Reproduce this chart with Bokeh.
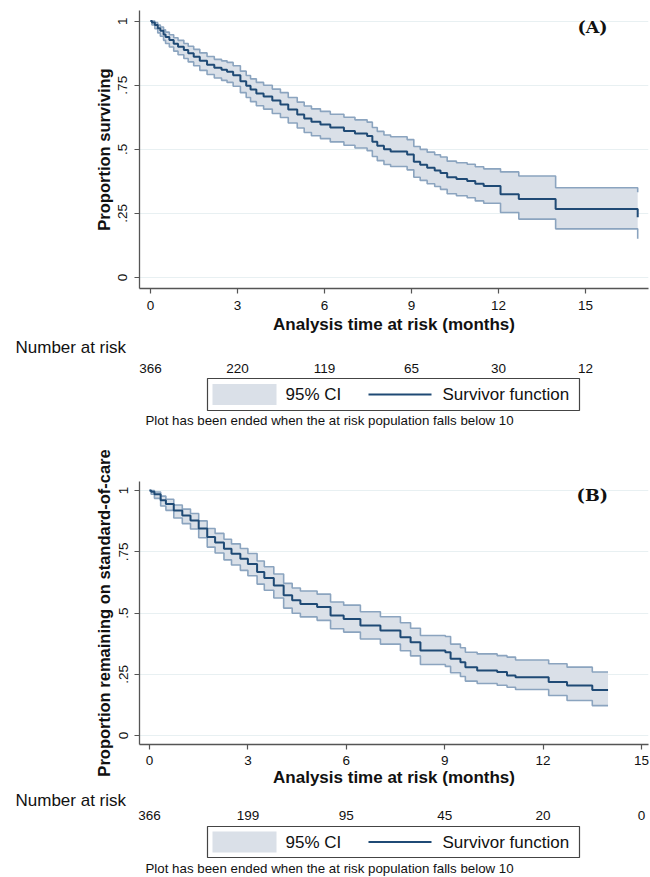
from bokeh.plotting import figure
from bokeh.models import Range1d, FixedTicker, ColumnDataSource
from bokeh.layouts import column
from bokeh.embed import file_html
from bokeh.resources import INLINE
from bokeh.core.properties import value

# ---------------- data ----------------
# Panel A: proportion surviving
a_time = [0.00, 0.05, 0.15, 0.25, 0.34, 0.45, 0.52, 0.65, 0.80, 0.95, 1.15, 1.30, 1.49, 1.70, 1.95,
          2.20, 2.45, 2.64, 2.85, 3.10, 3.30, 3.45, 3.65, 3.90, 4.20, 4.48, 4.75, 5.06, 5.30, 5.55,
          5.86, 6.20, 6.67, 7.05, 7.47, 7.65, 7.82, 8.05, 8.28, 8.85, 9.08, 9.30, 9.54, 9.80, 10.00,
          10.23, 10.55, 10.92, 11.20, 11.49, 12.07, 12.70, 13.97, 16.80]
a_surv = [1.000, 0.995, 0.985, 0.972, 0.962, 0.948, 0.938, 0.926, 0.912, 0.900, 0.887, 0.875, 0.861, 0.845, 0.830,
          0.818, 0.810, 0.803, 0.789, 0.766, 0.748, 0.733, 0.718, 0.706, 0.690, 0.675, 0.655, 0.636, 0.620, 0.608,
          0.597, 0.585, 0.572, 0.562, 0.552, 0.530, 0.514, 0.500, 0.492, 0.480, 0.452, 0.440, 0.428, 0.418, 0.408,
          0.391, 0.384, 0.377, 0.366, 0.357, 0.325, 0.306, 0.267, 0.235]
a_lower = [1.000, 0.985, 0.970, 0.954, 0.941, 0.925, 0.913, 0.899, 0.883, 0.869, 0.854, 0.841, 0.826, 0.808, 0.792,
           0.778, 0.769, 0.761, 0.746, 0.721, 0.702, 0.686, 0.670, 0.657, 0.640, 0.624, 0.603, 0.583, 0.566, 0.553,
           0.542, 0.529, 0.516, 0.505, 0.495, 0.472, 0.456, 0.441, 0.433, 0.420, 0.391, 0.379, 0.366, 0.355, 0.344,
           0.327, 0.319, 0.311, 0.299, 0.290, 0.254, 0.228, 0.190, 0.151]
a_upper = [1.000, 1.000, 0.994, 0.985, 0.977, 0.966, 0.957, 0.947, 0.935, 0.925, 0.913, 0.902, 0.890, 0.876, 0.862,
           0.851, 0.845, 0.839, 0.826, 0.805, 0.788, 0.775, 0.761, 0.750, 0.735, 0.721, 0.702, 0.684, 0.669, 0.658,
           0.648, 0.637, 0.625, 0.615, 0.606, 0.585, 0.570, 0.556, 0.549, 0.538, 0.511, 0.500, 0.489, 0.479, 0.470,
           0.454, 0.448, 0.442, 0.432, 0.424, 0.412, 0.396, 0.350, 0.333]
a_risk_time = [0, 3, 6, 9, 12, 15]
a_risk_n = [366, 220, 119, 65, 30, 12]

# Panel B: proportion remaining on standard-of-care
b_time = [0.00, 0.05, 0.15, 0.34, 0.50, 0.74, 1.00, 1.25, 1.50, 1.76, 2.00, 2.27, 2.50, 2.77, 3.00,
          3.28, 3.50, 3.79, 4.09, 4.35, 4.60, 5.11, 5.52, 5.92, 6.43, 7.04, 7.65, 7.96, 8.26, 9.02,
          9.18, 9.48, 9.63, 9.99, 10.60, 10.90, 11.16, 12.17, 12.73, 13.50, 13.98]
b_surv = [1.000, 0.995, 0.985, 0.960, 0.945, 0.918, 0.898, 0.878, 0.845, 0.810, 0.788, 0.762, 0.742, 0.721, 0.700,
          0.667, 0.643, 0.612, 0.572, 0.552, 0.537, 0.524, 0.490, 0.476, 0.449, 0.429, 0.401, 0.381, 0.347, 0.340,
          0.313, 0.299, 0.279, 0.265, 0.259, 0.245, 0.238, 0.218, 0.204, 0.186, 0.186]
b_lower = [1.000, 0.985, 0.968, 0.937, 0.919, 0.888, 0.865, 0.843, 0.807, 0.769, 0.745, 0.717, 0.696, 0.674, 0.652,
           0.618, 0.593, 0.561, 0.520, 0.499, 0.484, 0.470, 0.436, 0.422, 0.394, 0.373, 0.346, 0.325, 0.290, 0.282,
           0.256, 0.241, 0.222, 0.212, 0.205, 0.197, 0.188, 0.163, 0.143, 0.122, 0.122]
b_upper = [1.000, 1.000, 0.994, 0.977, 0.964, 0.941, 0.924, 0.906, 0.876, 0.845, 0.825, 0.801, 0.782, 0.763, 0.743,
           0.712, 0.689, 0.659, 0.621, 0.602, 0.590, 0.577, 0.545, 0.532, 0.505, 0.485, 0.460, 0.438, 0.408, 0.404,
           0.373, 0.358, 0.340, 0.333, 0.326, 0.320, 0.308, 0.293, 0.279, 0.259, 0.259]
b_risk_time = [0, 3, 6, 9, 12, 15]
b_risk_n = [366, 199, 95, 45, 20, 0]

x_ticks = [0, 3, 6, 9, 12, 15]
y_ticks = [0, 0.25, 0.5, 0.75, 1]
y_tick_labels = ["0", ".25", ".5", ".75", "1"]

# ---------------- style ----------------
W = 650
FONT = "Liberation Sans"
CI_FILL = "#dae0e8"
CI_LINE = "#8ba4bf"
SURV = "#1f4a75"
GRID = "#e8f0f2"
AXIS = "#555555"
TXT = "#111111"


def make_main(time, surv, lo, hi, zero, ppm, s0, ppu, top, frame_h, ylabel, tag, tag_xy,
              lab_standoff, title_standoff):
    left, right = 139, W - 2
    bottom = 46
    H = top + frame_h + bottom
    xr = Range1d((left - zero) / ppm, (right - zero) / ppm)
    yr = Range1d((s0 - (top + frame_h)) / ppu, (s0 - top) / ppu)
    p = figure(width=W, height=H, x_range=xr, y_range=yr, output_backend="svg",
               toolbar_location=None, min_border_left=left, min_border_right=W - right,
               min_border_top=top, min_border_bottom=bottom, frame_align=False)
    p.outline_line_color = None
    src = ColumnDataSource(dict(t=time, s=surv, lo=lo, hi=hi))
    p.varea_step(x="t", y1="lo", y2="hi", step_mode="after", source=src,
                 fill_color=CI_FILL, fill_alpha=1)
    p.step(x="t", y="lo", mode="after", source=src, line_color=CI_LINE, line_width=1.6)
    p.step(x="t", y="hi", mode="after", source=src, line_color=CI_LINE, line_width=1.6)
    p.step(x="t", y="s", mode="after", source=src, line_color=SURV, line_width=2)
    p.text(x=[tag_xy[0]], y=[tag_xy[1]], text=[tag], text_font=value("DejaVu Serif"),
           text_font_style="bold", text_font_size=value("17.5px"), text_align="center",
           text_baseline="middle", text_color="#111111")

    p.xaxis.ticker = FixedTicker(ticks=x_ticks)
    p.yaxis.ticker = FixedTicker(ticks=y_ticks)
    p.yaxis.major_label_overrides = dict(zip(y_ticks, y_tick_labels))
    p.yaxis.major_label_orientation = "vertical"
    p.xaxis.axis_label = "Analysis time at risk (months)"
    p.yaxis.axis_label = ylabel
    for ax in (p.xaxis[0], p.yaxis[0]):
        ax.axis_line_color = AXIS
        ax.axis_line_width = 1.3
        ax.major_tick_line_color = AXIS
        ax.major_tick_line_width = 1.2
        ax.major_tick_out = 5
        ax.major_tick_in = 0
        ax.minor_tick_line_color = None
        ax.major_label_text_font = FONT
        ax.major_label_text_font_size = "13.5px"
        ax.major_label_text_color = TXT
        ax.axis_label_text_font = FONT
        ax.axis_label_text_font_style = "bold"
        ax.axis_label_text_color = TXT
    p.xaxis.axis_label_text_font_size = "17px"
    p.yaxis.axis_label_text_font_size = "16.5px"
    p.xaxis.major_label_standoff = lab_standoff
    p.xaxis.axis_label_standoff = title_standoff
    p.yaxis.major_label_standoff = 7
    p.yaxis.axis_label_standoff = 3
    p.xgrid.visible = False
    p.ygrid.grid_line_color = GRID
    p.ygrid.grid_line_width = 1.2
    return p


def make_risk(H, zero, ppm, risk_time, risk_n, y_nar, y_num, box_top, box_bot, y_cap):
    p = figure(width=W, height=H, x_range=Range1d(0, W), y_range=Range1d(H, 0),
               x_axis_type=None, y_axis_type=None, output_backend="svg",
               toolbar_location=None, min_border=0, frame_align=False)
    p.outline_line_color = None
    p.extra_x_ranges = {"months": Range1d(-zero / ppm, (W - zero) / ppm)}
    p.text(x=[15], y=[y_nar], text=["Number at risk"], text_font=value(FONT),
           text_font_size=value("17px"), text_align="left", text_baseline="middle",
           text_color=TXT)
    p.text(x=risk_time, y=[y_num] * len(risk_time), text=[str(n) for n in risk_n],
           x_range_name="months", text_font=value(FONT), text_font_size=value("13.5px"),
           text_align="center", text_baseline="middle", text_color=TXT)
    mid = (box_top + box_bot) / 2
    p.quad(left=[207], right=[579], top=[box_top], bottom=[box_bot], fill_color="white",
           line_color="#444444", line_width=1.2)
    p.quad(left=[212], right=[276], top=[mid - 10.5], bottom=[mid + 10.5],
           fill_color=CI_FILL, line_color=None)
    p.text(x=[285], y=[mid], text=["95% CI"], text_font=value(FONT),
           text_font_size=value("17px"), text_align="left", text_baseline="middle",
           text_color=TXT)
    p.line(x=[368, 431], y=[mid, mid], line_color=SURV, line_width=1.8)
    p.text(x=[442], y=[mid], text=["Survivor function"], text_font=value(FONT),
           text_font_size=value("17px"), text_align="left", text_baseline="middle",
           text_color=TXT)
    p.text(x=[145], y=[y_cap],
           text=["Plot has been ended when the at risk population falls below 10"],
           text_font=value(FONT), text_font_size=value("13.3px"), text_align="left",
           text_baseline="middle", text_color=TXT)
    return p


pa = make_main(a_time, a_surv, a_lower, a_upper, zero=150, ppm=29.0, s0=279, ppu=258.3,
               top=10, frame_h=280, ylabel="Proportion surviving", tag="(A)",
               tag_xy=(15.24, 0.976), lab_standoff=7, title_standoff=2)
ra = make_risk(96, 150, 29.0, a_risk_time, a_risk_n, y_nar=11, y_num=32,
               box_top=42, box_bot=74, y_cap=84)
pb = make_main(b_time, b_surv, b_lower, b_upper, zero=149, ppm=32.8, s0=303, ppu=245.0,
               top=49, frame_h=263, ylabel="Proportion remaining on standard-of-care",
               tag="(B)", tag_xy=(13.5, 0.98), lab_standoff=6, title_standoff=0)
rb = make_risk(87, 149, 32.8, b_risk_time, b_risk_n, y_nar=10, y_num=25,
               box_top=36, box_bot=67, y_cap=78)

layout = column(pa, ra, pb, rb)
open("out.html", "w").write(file_html(layout, INLINE))
